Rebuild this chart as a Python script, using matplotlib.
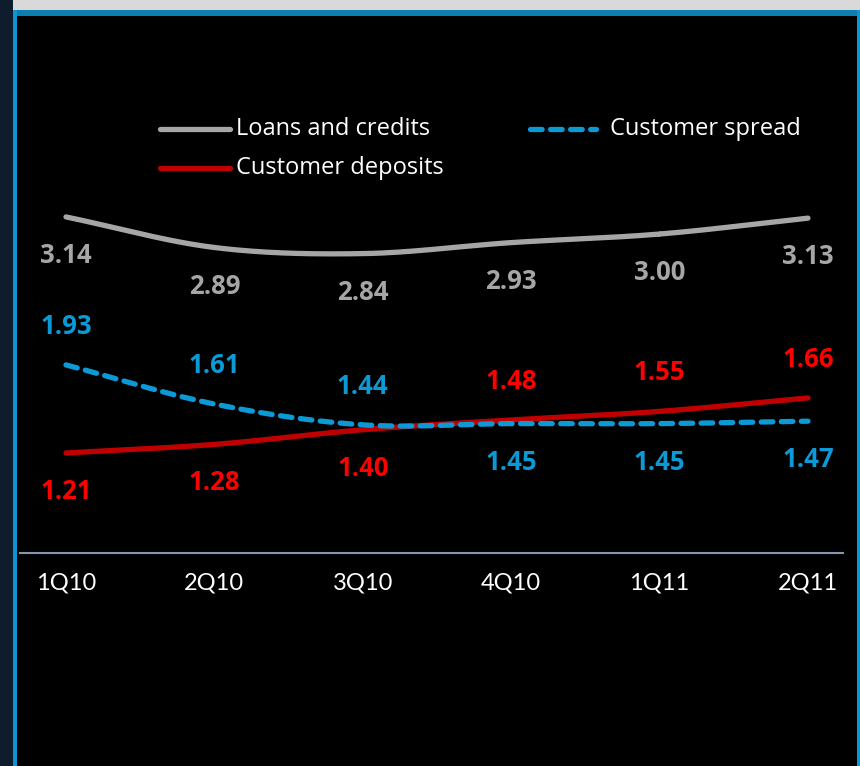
import numpy as np
import matplotlib
matplotlib.use("Agg")
import matplotlib.pyplot as plt
from matplotlib.patches import Rectangle
from matplotlib.lines import Line2D

quarters = ["1Q10", "2Q10", "3Q10", "4Q10", "1Q11", "2Q11"]
loans_credits = [3.14, 2.89, 2.84, 2.93, 3.00, 3.13]
customer_spread = [1.93, 1.61, 1.44, 1.45, 1.45, 1.47]
customer_deposits = [1.21, 1.28, 1.40, 1.48, 1.55, 1.66]

GRAY = "#a6a6a6"
BLUE = "#0b9ad6"
RED_LINE = "#c00000"
RED_TXT = "#ff0000"
DASH = (0, (2.2, 1.6))


def smooth(x, y, n=40):
    """Catmull-Rom curve through the given points."""
    x = np.asarray(x, float)
    y = np.asarray(y, float)
    px = np.concatenate([[2 * x[0] - x[1]], x, [2 * x[-1] - x[-2]]])
    py = np.concatenate([[2 * y[0] - y[1]], y, [2 * y[-1] - y[-2]]])
    xs, ys = [], []
    t = np.linspace(0, 1, n)
    for i in range(1, len(px) - 2):
        for p, out in ((px, xs), (py, ys)):
            p0, p1, p2, p3 = p[i - 1], p[i], p[i + 1], p[i + 2]
            out.append(0.5 * ((2 * p1) + (-p0 + p2) * t
                              + (2 * p0 - 5 * p1 + 4 * p2 - p3) * t ** 2
                              + (-p0 + 3 * p1 - 3 * p2 + p3) * t ** 3))
    return np.concatenate(xs), np.concatenate(ys)


fig = plt.figure(figsize=(8.6, 7.66), dpi=100)
fig.patch.set_facecolor("black")
W, H = 860, 766


def frect(x0, y0, w, h, color):
    fig.patches.append(Rectangle((x0 / W, 1 - (y0 + h) / H), w / W, h / H,
                                 transform=fig.transFigure, color=color,
                                 zorder=0, lw=0))


frect(0, 0, 13, H, "#0f1c2e")
frect(13, 0, W - 13, 10, "#d9d9d9")
frect(13, 10, W - 13, 6, "#0a7fb0")
frect(13, 10, 4, H - 10, "#0a96d2")
frect(857, 10, 3, H - 10, "#0a96d2")

ax = fig.add_axes([20 / W, 1 - 553 / H, (843 - 20) / W, (553 - 100) / H])
ax.set_facecolor("black")
x = np.arange(len(quarters))

for vals, color, ls in ((loans_credits, GRAY, "-"),
                        (customer_deposits, RED_LINE, "-"),
                        (customer_spread, BLUE, DASH)):
    sx, sy = smooth(x, vals)
    ax.plot(sx, sy, color=color, lw=3.8, ls=ls, solid_capstyle="round",
            dash_capstyle="round")

ax.set_xlim(-0.31, 5.236)
ax.set_ylim(0.392, 4.096)

lab_font = dict(family="Open Sans", weight="bold", fontsize=18.5,
                ha="center", va="center")
off = 0.315
for i, v in enumerate(loans_credits):
    ax.text(i, v - off, f"{v:.2f}", color=GRAY, **lab_font)
side = [1, 1, 1, -1, -1, -1]
for i, v in enumerate(customer_spread):
    ax.text(i, v + side[i] * off, f"{v:.2f}", color=BLUE, **lab_font)
for i, v in enumerate(customer_deposits):
    ax.text(i, v - side[i] * off, f"{v:.2f}", color=RED_TXT, **lab_font)

for s in ("left", "right", "top"):
    ax.spines[s].set_visible(False)
ax.spines["bottom"].set_color("#8497b0")
ax.spines["bottom"].set_linewidth(1.5)
ax.set_yticks([])
ax.set_xticks(x)
ax.set_xticklabels(quarters, family="Lato", fontsize=17, color="white")
ax.tick_params(axis="x", length=0, pad=14)

# legend, laid out in pixel positions
legend_items = [("Loans and credits", GRAY, "-", 160, 230, 236, 129),
                ("Customer deposits", RED_LINE, "-", 160, 230, 236, 168),
                ("Customer spread", BLUE, DASH, 530, 596, 610, 129)]
for text, color, ls, x0, x1, tx, y in legend_items:
    fig.add_artist(Line2D([x0 / W, x1 / W], [1 - y / H, 1 - y / H],
                          transform=fig.transFigure, color=color, lw=3.8,
                          ls=ls, solid_capstyle="round",
                          dash_capstyle="round"))
    fig.text(tx / W, 1 - y / H, text, color="white", family="Open Sans",
             fontsize=17, ha="left", va="center")

fig.savefig("out.png", dpi=100, facecolor="black")
